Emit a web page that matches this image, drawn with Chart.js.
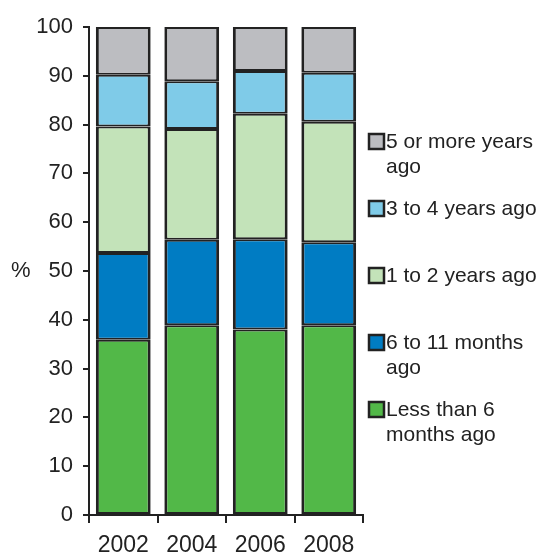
<!DOCTYPE html>
<html>
<head>
<meta charset="utf-8">
<script src="https://cdn.jsdelivr.net/npm/chart.js@4/dist/chart.umd.min.js"></script>
<style>
  html, body { margin: 0; padding: 0; background: #fff; }
  #wrap { width: 544px; height: 557px; position: relative; }
</style>
</head>
<body>
<div id="wrap"><canvas id="recencyChart"></canvas></div>
<script>
// survey years
const years = ["2002", "2004", "2006", "2008"];

// share of respondents (%), bottom segment first
const lessThan6Months = [35.9, 38.9, 38.0, 38.9];
const sixTo11Months = [17.8, 17.5, 18.5, 17.0];
const oneToTwoYears = [25.9, 22.7, 25.7, 24.7];
const threeToFourYears = [10.6, 9.8, 8.8, 10.0];
const fiveOrMoreYears = [9.8, 11.1, 9.0, 9.4];

const seriesNames = ["Less than 6 months ago", "6 to 11 months ago", "1 to 2 years ago", "3 to 4 years ago", "5 or more years ago"];
const barColors = ["#52b848", "#007cc3", "#c3e3b9", "#7fcbe8", "#bcbdc1"];

const yTicks = [0, 10, 20, 30, 40, 50, 60, 70, 80, 90, 100];

const fontFam = "'Liberation Sans', Arial, sans-serif";
const ink = "#222";

// legend drawn on the right, top item = top segment
const sideLegend = {
  id: "sideLegend",
  afterDraw(chart) {
    const ctx = chart.ctx;
    ctx.save();
    ctx.font = "21px " + fontFam;
    ctx.textBaseline = "middle";
    ctx.textAlign = "left";
    const ds = chart.data.datasets.slice().reverse();
    ds.forEach((d, i) => {
      const y = 142 + i * 67;
      ctx.fillStyle = d.backgroundColor;
      ctx.fillRect(369, y - 8, 15, 15);
      ctx.strokeStyle = ink;
      ctx.lineWidth = 2.5;
      ctx.strokeRect(369, y - 8, 15, 15);
      // wrap words
      const words = d.label.split(" ");
      const lines = [];
      let cur = "";
      words.forEach(w => {
        const t = cur ? cur + " " + w : w;
        if (ctx.measureText(t).width > 155 && cur) { lines.push(cur); cur = w; }
        else cur = t;
      });
      lines.push(cur);
      ctx.fillStyle = ink;
      lines.forEach((ln, j) => ctx.fillText(ln, 386, y + j * 25));
    });
    // % label
    ctx.font = "22px " + fontFam;
    ctx.fillText("%", 11, 271);
    ctx.restore();
  }
};

const stacks = [lessThan6Months, sixTo11Months, oneToTwoYears, threeToFourYears, fiveOrMoreYears];

new Chart("recencyChart", {
  type: "bar",
  data: {
    labels: years,
    datasets: stacks.map((vals, i) => ({
      label: seriesNames[i],
      data: vals,
      backgroundColor: barColors[i],
      borderColor: ink,
      borderWidth: { left: 3, right: 3, top: 2, bottom: 2 },
      borderSkipped: false,
      inflateAmount: 0,
      barPercentage: 0.8,
      categoryPercentage: 1
    }))
  },
  options: {
    responsive: true,
    maintainAspectRatio: false,
    animation: false,
    layout: { padding: { left: 0, right: 181, top: 27, bottom: 0 } },
    plugins: {
      legend: { display: false },
      tooltip: { enabled: false }
    },
    scales: {
      x: {
        stacked: true,
        afterFit: s => { s.height = 42; },
        grid: { offset: true, drawOnChartArea: false, drawTicks: true, tickLength: 8, color: ink, lineWidth: 2 },
        border: { color: ink, width: 2 },
        ticks: { color: ink, font: { family: fontFam, size: 23 }, padding: 9 }
      },
      y: {
        stacked: true,
        min: 0,
        max: 100,
        afterFit: s => { s.width = 89; },
        afterBuildTicks: s => { s.ticks = yTicks.map(v => ({ value: v })); },
        grid: { drawOnChartArea: false, drawTicks: true, tickLength: 6, color: ink, lineWidth: 2 },
        border: { color: ink, width: 2 },
        ticks: { color: ink, font: { family: fontFam, size: 22 }, padding: 10 }
      }
    }
  },
  plugins: [sideLegend]
});
</script>
</body>
</html>
